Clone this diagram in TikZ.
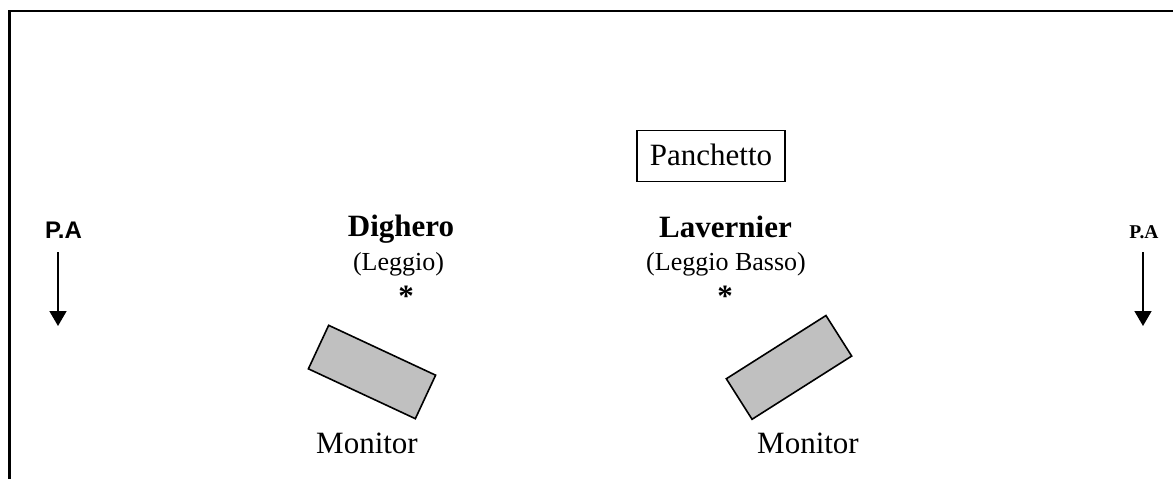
\documentclass[tikz,border=0pt]{standalone}
\usepackage{fontspec}
\setmainfont{Liberation Serif}
\newfontfamily\arialfont{Liberation Sans}
\usetikzlibrary{arrows.meta}
\begin{document}
\tikzset{
  big/.style={font=\fontsize{31}{36}\selectfont, inner sep=0pt, anchor=base},
  bigbold/.style={font=\fontsize{31}{36}\selectfont\bfseries, inner sep=0pt, anchor=base},
  small/.style={font=\fontsize{26}{30}\selectfont, inner sep=0pt, anchor=base},
  star/.style={font=\fontsize{31}{36}\selectfont\bfseries, inner sep=0pt, anchor=base},
  monitorbox/.style={draw, line width=1.6pt, fill={rgb,255:red,192;green,192;blue,192}, minimum width=118pt, minimum height=48pt, inner sep=0pt},
  paarrow/.style={line width=1.6pt, -{Triangle[width=17pt,length=15pt]}},
  border/.style={line width=2.4pt}
}
\begin{tikzpicture}[x=1pt,y=-1pt]
\useasboundingbox (0,0) rectangle (1173,479);
% frame
\coordinate (tr) at (1173,11);
\coordinate (tl) at (9.5,11);
\coordinate (bl) at (9.5,479);
\draw[border] (tr) -- (tl) -- (bl);
% P.A left
\node[font=\arialfont\fontsize{24}{28}\selectfont\bfseries, inner sep=0pt, anchor=base] (paL) at (63.5,238.3) {P.A};
\coordinate (paLs) at (58,252);
\coordinate (paLe) at (58,326);
\draw[paarrow] (paLs) -- (paLe);
% P.A right
\node[font=\fontsize{19.5}{24}\selectfont\bfseries, inner sep=0pt, anchor=base] (paR) at (1144,238.3) {P.A};
\coordinate (paRs) at (1143,252);
\coordinate (paRe) at (1143,326);
\draw[paarrow] (paRs) -- (paRe);
% Panchetto
\node[big] (panT) at (711,165) {Panchetto};
\node[draw, line width=1.4pt, minimum width=148pt, minimum height=51pt, inner sep=0pt] (panB) at (711,156) {};
% Dighero
\node[bigbold] (dig) at (401,236.7) {Dighero};
\node[small] (digl) at (398.5,270) {(Leggio)};
\node[star] (digs) at (406,306) {*};
% Lavernier
\node[bigbold] (lav) at (725.5,237.3) {Lavernier};
\node[small] (lavl) at (726,270) {(Leggio Basso)};
\node[star] (lavs) at (725,306) {*};
% Monitors
\node[monitorbox, rotate=-25] (monL) at (372,372) {};
\node[big] (monLt) at (367,453.3) {Monitor};
\node[monitorbox, rotate=32.4] (monR) at (789,367.4) {};
\node[big] (monRt) at (808,453.3) {Monitor};
\end{tikzpicture}
\end{document}
